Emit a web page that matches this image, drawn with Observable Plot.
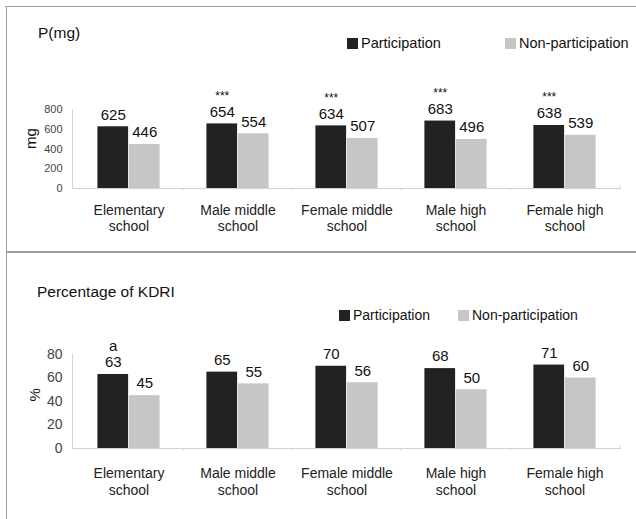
<!DOCTYPE html>
<html><head><meta charset="utf-8">
<script src="https://cdn.jsdelivr.net/npm/d3@7"></script>
<script src="https://cdn.jsdelivr.net/npm/@observablehq/plot@0.6"></script>
<style>
html,body{margin:0;padding:0;background:#fff;}
#root{position:relative;width:636px;height:519px;overflow:hidden;font-family:"Liberation Sans",Arial,sans-serif;color:#111;}
.line{position:absolute;background:#a0a0a0;}
.title{position:absolute;font-size:15.5px;white-space:nowrap;line-height:16px;}
.leg{position:absolute;display:flex;align-items:center;font-size:14.5px;white-space:nowrap;line-height:16px;}
.sw{display:inline-block;width:11px;height:11px;margin-right:3px;}
.panel{position:absolute;left:0;}
</style></head><body><div id="root"></div>
<script>
const categories = ["Elementary\nschool", "Male middle\nschool", "Female middle\nschool", "Male high\nschool", "Female high\nschool"];
const seriesNames = ["Participation", "Non-participation"];
const seriesColors = ["#222222", "#c6c6c6"];
const phosParticipation = [625, 654, 634, 683, 638];
const phosNonParticipation = [446, 554, 507, 496, 539];
const phosMarks = ["", "***", "***", "***", "***"];
const phosTicks = [0, 200, 400, 600, 800];
const kdriParticipation = [63, 65, 70, 68, 71];
const kdriNonParticipation = [45, 55, 56, 50, 60];
const kdriMarks = ["a", "", "", "", ""];
const kdriTicks = [0, 20, 40, 60, 80];

const root = document.getElementById("root");
const FONT = '"Liberation Sans", Arial, sans-serif';

function panel(o) {
  const rows = categories.map((c, i) => ({category: c, p: o.part[i], n: o.non[i], mark: o.marks[i]}));
  const half = (636 - 72 - 15) / categories.length / 2;
  const barW = 31.5;
  const axisColor = "#d4d4d4";
  return Plot.plot({
    width: 636, height: o.height,
    marginLeft: 72, marginRight: 15, marginTop: o.marginTop, marginBottom: o.marginBottom,
    style: {fontFamily: FONT, background: "transparent", overflow: "visible", color: "#111"},
    x: {type: "band", domain: categories, padding: 0, axis: null, label: null},
    y: {domain: [0, o.yMax], axis: null, label: null},
    marks: [
      Plot.ruleY([0], {stroke: axisColor}),
      Plot.frame({anchor: "left", stroke: axisColor}),
      Plot.ruleX(categories.slice(1), {x: d => d, dx: -half, y1: 0, y2: -o.yMax * 0.03, stroke: axisColor}),
      Plot.ruleX(categories.slice(-1), {x: d => d, dx: half, y1: 0, y2: o.yMax * 0.03, stroke: axisColor}),
      Plot.barY(rows, {x: "category", y: "p", fill: seriesColors[0], insetLeft: half - barW, insetRight: half}),
      Plot.barY(rows, {x: "category", y: "n", fill: seriesColors[1], insetLeft: half, insetRight: half - barW}),
      Plot.text(rows, {x: "category", y: "p", text: d => String(d.p), dx: -barW / 2, dy: -12, fontSize: 15, fill: "#111"}),
      Plot.text(rows, {x: "category", y: "n", text: d => String(d.n), dx: barW / 2, dy: -12, fontSize: 15, fill: "#111"}),
      Plot.text(rows, {x: "category", y: "p", text: "mark", dx: -barW / 2, dy: o.markDy, fontSize: o.markSize, fill: "#111"}),
      Plot.axisY({ticks: o.ticks, tickSize: 0, tickPadding: 10, fontSize: o.tickFont, color: "#444", label: null}),
      Plot.axisX({tickSize: 0, tickPadding: o.xPad, fontSize: 14, lineHeight: o.xLineHeight, color: "#222", label: null}),
      Plot.text([o.yLabel], {frameAnchor: "left", rotate: -90, dx: o.yLabelDx, fontSize: 15, fill: "#111"})
    ]
  });
}

const p1 = panel({height: 252, marginTop: 109, marginBottom: 64, yMax: 800, ticks: phosTicks,
  part: phosParticipation, non: phosNonParticipation, marks: phosMarks, markDy: -28, markSize: 12,
  tickFont: 11, xPad: 16, xLineHeight: 1.1, yLabel: "mg", yLabelDx: -41});
p1.classList.add("panel"); p1.style.top = "0px";
root.appendChild(p1);

const p2 = panel({height: 267, marginTop: 102, marginBottom: 71, yMax: 80, ticks: kdriTicks,
  part: kdriParticipation, non: kdriNonParticipation, marks: kdriMarks, markDy: -28, markSize: 15,
  tickFont: 14, xPad: 17, xLineHeight: 1.25, yLabel: "%", yLabelDx: -37});
p2.classList.add("panel"); p2.style.top = "252px";
root.appendChild(p2);

function addDiv(cls, style, html) {
  const d = document.createElement("div");
  d.className = cls;
  Object.assign(d.style, style);
  if (html != null) d.innerHTML = html;
  root.appendChild(d);
  return d;
}
// frame lines
addDiv("line", {left: "5px", top: "6px", width: "631px", height: "1px"});
addDiv("line", {left: "6px", top: "6px", width: "1px", height: "513px"});
addDiv("line", {left: "6px", top: "251px", width: "630px", height: "2px"});

// titles
addDiv("title", {left: "38px", top: "25px"}).textContent = "P(mg)";
addDiv("title", {left: "37px", top: "284px"}).textContent = "Percentage of KDRI";

// legends
function legend(items) {
  items.forEach(([left, top, i, size]) => {
    const d = addDiv("leg", {left: left + "px", top: top + "px", fontSize: size + "px"});
    const s = document.createElement("span");
    s.className = "sw"; s.style.background = seriesColors[i];
    d.appendChild(s);
    const t = document.createElement("span");
    t.textContent = seriesNames[i];
    d.appendChild(t);
  });
}
legend([[347, 35, 0, 14.5], [505, 35, 1, 14.5], [339, 307, 0, 14], [458, 307, 1, 14]]);
</script></body></html>
